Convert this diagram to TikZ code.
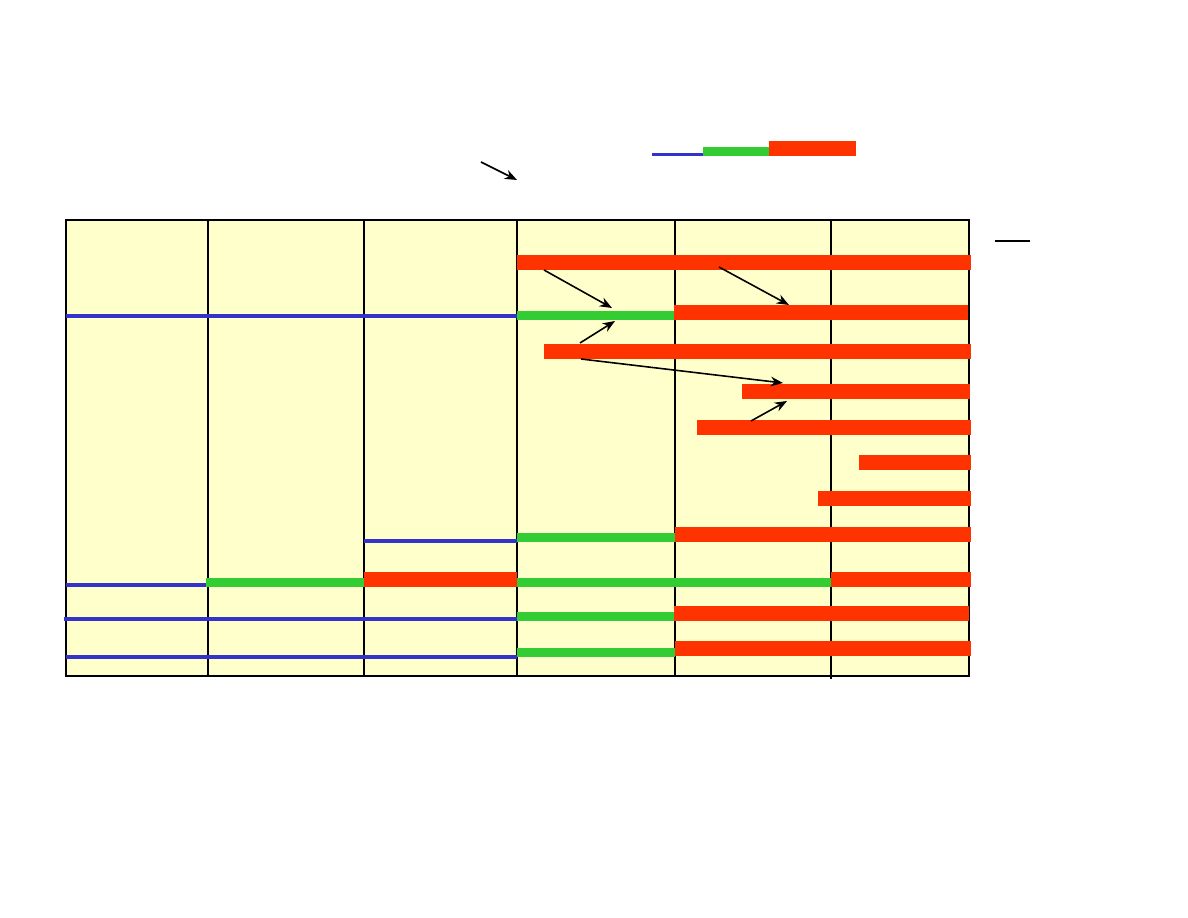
\documentclass[tikz,border=0pt]{standalone}
\usepackage{xcolor}
\usepackage{tikz}
\usetikzlibrary{arrows.meta}
\usetikzlibrary{calc}
\definecolor{chartyellow}{HTML}{FFFFCC}
\definecolor{barred}{HTML}{FF3300}
\definecolor{bargreen}{HTML}{33CC33}
\definecolor{lineblue}{HTML}{3333CC}
\tikzstyle{redbar}=[fill=barred,draw=none]
\tikzstyle{greenbar}=[fill=bargreen,draw=none]
\tikzstyle{blueline} = [draw=lineblue,line width=2pt]
\tikzstyle{gridline} = [draw=black,line width=0.6pt]
\tikzstyle{boldgridline} = [draw=black,line width=1.1pt]
\tikzstyle{link} = [draw,line width=0.9pt,-{Stealth[length=7pt,width=5.5pt]}]

\begin{document}
\begin{tikzpicture}[x=0.02cm,y=-0.02cm]

  \useasboundingbox (0,0) rectangle (1188,918);

  % chart area
  \path[fill=chartyellow] (66,220) rectangle (969,676);
  \foreach \x in {208,364,517}
         \path[gridline] (\x,220) -- (\x,676);
  \path[boldgridline] (675,220) -- (675,676);
  \path[boldgridline] (831,220) -- (831,679);
  \path[boldgridline] (66,220) rectangle (969,676);

  % legend
  \path[blueline] (652,154.5) -- (703,154.5);
  \path[greenbar] (703,147) rectangle (769,156);
  \path[redbar] (769,141) rectangle (856,156);
  \path[boldgridline] (995,241) -- (1030,241);

  % blue lines (x1/x2/y)
  \foreach \xa/\xb/\y in {66/519/316, 364/517/541, 66/206/585, 64/517/619, 66/517/657}
         \path[blueline] (\xa,\y) -- (\xb,\y);

  % green bars (x1/x2/bottom)
  \foreach \xa/\xb/\y in {517/675/320, 517/675/542, 206/364/587, 517/831/587, 517/674/621, 517/675/657}
         \path[greenbar] (\xa,\y-9) rectangle (\xb,\y);

  % red bars (x1/x2/bottom)
  \foreach \xa/\xb/\y in {517/971/270, 674/968/320, 544/971/359, 742/970/399, 697/971/435,
                          859/971/470, 818/971/506, 675/971/542, 364/517/587, 831/971/587,
                          674/969/621, 675/971/656}
         \path[redbar] (\xa,\y-15) rectangle (\xb,\y);

  % arrows
  \foreach \name/\x/\y in {topA/481/162, topB/517/180, rA/544/270, gA/612/308, rB/719/267, gB/789/305,
                            sA/580/343, eA/615/321, sB/581/359, eB/783/383, sC/751/421, eC/787/401}
         \coordinate (\name) at (\x,\y);

  \foreach \source/\dest in {topA/topB, rA/gA, rB/gB, sA/eA, sB/eB, sC/eC}
         \path[link] (\source) -- (\dest);

\end{tikzpicture}
\end{document}
